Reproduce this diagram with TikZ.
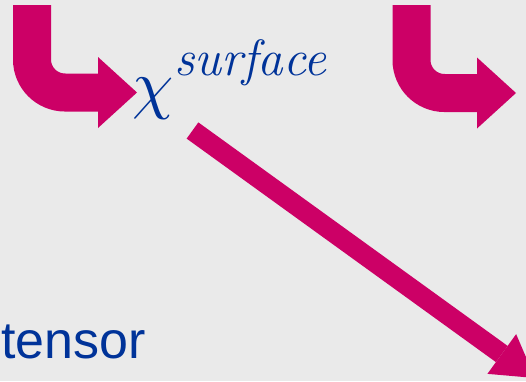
\documentclass[tikz,border=0pt]{standalone}
\usepackage{fontspec}
\setsansfont{Liberation Sans}
\usetikzlibrary{arrows.meta,positioning}
\definecolor{magarr}{HTML}{CC0066}
\definecolor{chiblue}{HTML}{003399}
\definecolor{bggray}{HTML}{EAEAEA}
\tikzset{
  bentarr/.style={draw=magarr,line width=38pt,-{Triangle[length=39pt,width=71pt,line width=0pt]}},
  diagarr/.style={draw=magarr,line width=20pt,-{Triangle[length=41pt,width=49pt,line width=0pt]}},
  symb/.style={text=chiblue,inner sep=0pt,anchor=base west},
  lbl/.style={text=chiblue,inner sep=0pt,anchor=base west,font=\sffamily\fontsize{52}{58}\selectfont}
}

\begin{document}
\begin{tikzpicture}[x=1pt,y=-1pt]
  \useasboundingbox (0,0) rectangle (526,381);
  \clip (0,0) rectangle (526,381);
  \fill[bggray] (0,0) rectangle (526,381);

  % chi with superscript
  \node[symb,scale=6.6] (chi) at (131,106) {$\chi$};
  \node[symb,font=\fontsize{51}{56}\selectfont\itshape] (surf) at (174,75) {surface};
  \node[lbl] (tens) at (1,358) {tensor};

  \coordinate (ltop) at (32,5);
  \coordinate (lend) at (137,92.5);
  \coordinate (rtop) at (411.5,5);
  \coordinate (rend) at (516,93);
  \coordinate (dtail) at (192.5,130.5);
  \coordinate (dend) at (535,378);

  \draw[bentarr] (ltop) [rounded corners=33pt] |- (lend);
  \draw[bentarr] (rtop) [rounded corners=33pt] |- (rend);
  \draw[diagarr] (dtail) -- (dend);
\end{tikzpicture}
\end{document}
